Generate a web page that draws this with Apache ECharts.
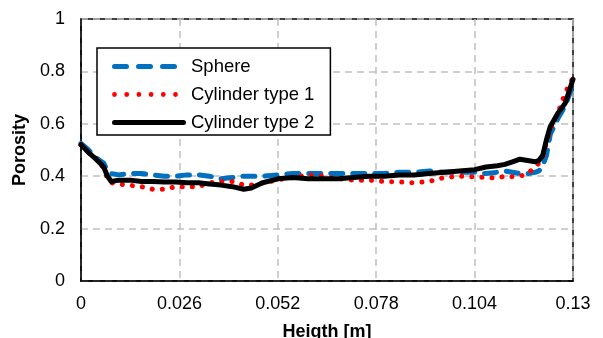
<!DOCTYPE html>
<html>
<head>
<meta charset="utf-8">
<script src="https://cdn.jsdelivr.net/npm/echarts@6/dist/echarts.min.js"></script>
<style>html,body{margin:0;padding:0;background:#fff}#c{width:603px;height:338px}</style>
</head>
<body>
<div id="c"></div>
<script>
const heights = [0, 0.002, 0.004, 0.005, 0.006, 0.007, 0.008, 0.010, 0.013, 0.016, 0.019, 0.022, 0.025, 0.028, 0.031, 0.034, 0.037, 0.040, 0.043, 0.045, 0.048, 0.052, 0.056, 0.060, 0.064, 0.068, 0.072, 0.076, 0.080, 0.084, 0.088, 0.092, 0.096, 0.100, 0.104, 0.107, 0.110, 0.112, 0.114, 0.116, 0.118, 0.120, 0.121, 0.122, 0.123, 0.124, 0.126, 0.128, 0.130];
const sphere = [0.525, 0.50, 0.47, 0.46, 0.45, 0.42, 0.41, 0.405, 0.41, 0.41, 0.405, 0.40, 0.40, 0.405, 0.405, 0.40, 0.39, 0.395, 0.40, 0.40, 0.40, 0.405, 0.41, 0.41, 0.41, 0.41, 0.41, 0.41, 0.41, 0.415, 0.415, 0.42, 0.415, 0.415, 0.415, 0.41, 0.415, 0.42, 0.415, 0.41, 0.41, 0.415, 0.42, 0.44, 0.48, 0.56, 0.62, 0.67, 0.75];
const cylinder1 = [0.52, 0.49, 0.465, 0.45, 0.43, 0.39, 0.375, 0.37, 0.365, 0.36, 0.35, 0.35, 0.36, 0.36, 0.36, 0.375, 0.38, 0.38, 0.366, 0.366, 0.374, 0.386, 0.395, 0.405, 0.40, 0.39, 0.385, 0.385, 0.38, 0.378, 0.375, 0.38, 0.395, 0.40, 0.397, 0.395, 0.393, 0.40, 0.398, 0.40, 0.41, 0.435, 0.45, 0.47, 0.53, 0.58, 0.64, 0.72, 0.775];
const cylinder2 = [0.52, 0.49, 0.465, 0.45, 0.435, 0.40, 0.38, 0.385, 0.385, 0.38, 0.38, 0.378, 0.378, 0.375, 0.375, 0.37, 0.366, 0.36, 0.35, 0.355, 0.375, 0.39, 0.395, 0.39, 0.39, 0.39, 0.395, 0.40, 0.40, 0.405, 0.405, 0.41, 0.415, 0.42, 0.425, 0.435, 0.44, 0.445, 0.455, 0.465, 0.46, 0.455, 0.46, 0.48, 0.54, 0.59, 0.64, 0.68, 0.77];
const xTickLabels = ['0', '0.026', '0.052', '0.078', '0.104', '0.13'];
const yTickLabels = ['0', '0.2', '0.4', '0.6', '0.8', '1'];
const seriesNames = ['Sphere', 'Cylinder type 1', 'Cylinder type 2'];

// legend icon shapes (74 x 5 box)
function pill(a, len) {
  const r = 2.5;
  return `M${a + r} 0 H${a + len - r} A${r} ${r} 0 0 1 ${a + len - r} 5 H${a + r} A${r} ${r} 0 0 1 ${a + r} 0 Z `;
}
function dot(cx) {
  const r = 2.4;
  return `M${cx - r} 2.5 A${r} ${r} 0 1 0 ${cx + r} 2.5 A${r} ${r} 0 1 0 ${cx - r} 2.5 Z `;
}
const ext = 'M0 0 M74 5 ';
const iconSphere = 'path://' + ext + pill(0, 17) + pill(24, 17) + pill(48, 17);
let dots = '';
for (let k = 0; k < 6; k++) dots += dot(2.5 + k * 12.2);
const iconCyl1 = 'path://' + ext + dots;
const iconCyl2 = 'path://' + ext + pill(0, 74);
const icons = [iconSphere, iconCyl1, iconCyl2];

const pairs = arr => heights.map((h, i) => [h, arr[i]]);
const chart = echarts.init(document.getElementById('c'), null, {renderer: 'canvas'});
const font = 'Liberation Sans, Arial, sans-serif';
chart.setOption({
  animation: false,
  grid: {left: 81, right: 30, top: 19, bottom: 57, show: true, borderColor: '#000', borderWidth: 1.5,
    backgroundColor: 'transparent', containLabel: false, outerBoundsMode: 'none'},
  legend: {
    orient: 'vertical', left: 97, top: 48,
    itemWidth: 74, itemHeight: 5, itemGap: 9, symbolKeepAspect: false,
    padding: [9, 16, 3, 15],
    backgroundColor: '#fff', borderColor: '#000', borderWidth: 1.5,
    textStyle: {fontFamily: font, fontSize: 18.5, color: '#000'},
    data: seriesNames.map((n, i) => ({name: n, icon: icons[i]}))
  },
  xAxis: {
    type: 'value', min: 0, max: 0.13, interval: 0.026,
    name: 'Heigth [m]', nameLocation: 'middle', nameGap: 42,
    nameTextStyle: {fontFamily: font, fontSize: 18, fontWeight: 'bold', color: '#000'},
    axisLine: {show: true, lineStyle: {color: '#000', width: 1.5}},
    axisTick: {show: false},
    axisLabel: {fontFamily: font, fontSize: 18, color: '#000', margin: 14,
      formatter: v => xTickLabels[Math.round(v / 0.026)]},
    splitLine: {show: true, lineStyle: {color: '#c0c0c0', width: 1.5, type: [7, 5]}}
  },
  yAxis: {
    type: 'value', min: 0, max: 1, interval: 0.2,
    name: 'Porosity', nameLocation: 'middle', nameGap: 45,
    nameTextStyle: {fontFamily: font, fontSize: 18, fontWeight: 'bold', color: '#000'},
    axisLine: {show: true, lineStyle: {color: '#000', width: 1.5}},
    axisTick: {show: false},
    axisLabel: {fontFamily: font, fontSize: 18, color: '#000', margin: 16,
      formatter: v => yTickLabels[Math.round(v / 0.2)]},
    splitLine: {show: true, lineStyle: {color: '#c0c0c0', width: 1.5, type: [7, 5]}}
  },
  series: [
    {name: seriesNames[0], type: 'line', data: pairs(sphere), symbol: 'none',
      lineStyle: {color: '#0070C0', width: 5, type: [12, 10], cap: 'round'}, itemStyle: {color: '#0070C0'}},
    {name: seriesNames[1], type: 'line', data: pairs(cylinder1), symbol: 'none',
      lineStyle: {color: '#ff0000', width: 5, type: [0.1, 10], cap: 'round'}, itemStyle: {color: '#ff0000'}},
    {name: seriesNames[2], type: 'line', data: pairs(cylinder2), symbol: 'none',
      lineStyle: {color: '#000', width: 5, type: 'solid', cap: 'round', join: 'round'}, itemStyle: {color: '#000'}}
  ]
});
</script>
</body>
</html>
